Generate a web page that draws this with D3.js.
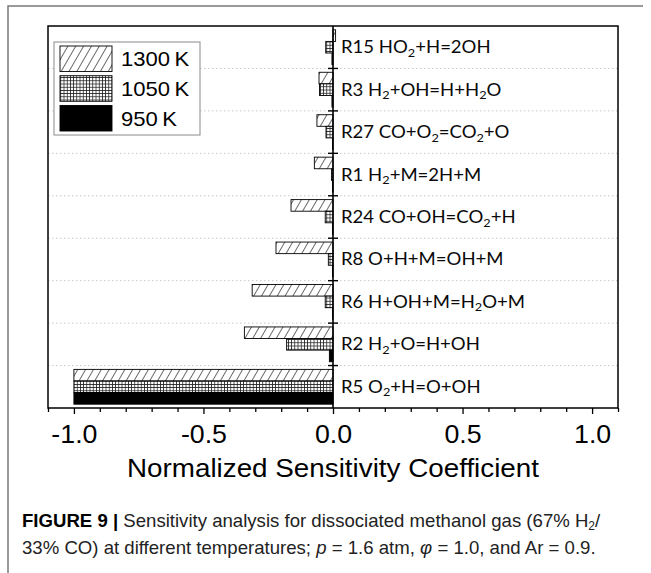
<!DOCTYPE html>
<html>
<head>
<meta charset="utf-8">
<script src="https://cdn.jsdelivr.net/npm/d3@7"></script>
<style>
  html, body { margin: 0; padding: 0; background: #fff; }
  svg { display: block; }
</style>
</head>
<body>
<svg id="chart" width="651" height="573"></svg>
<script>
// Reactions, top to bottom ("_" marks a subscript digit)
const reactions = [
  "R15 HO_2+H=2OH",
  "R3 H_2+OH=H+H_2O",
  "R27 CO+O_2=CO_2+O",
  "R1 H_2+M=2H+M",
  "R24 CO+OH=CO_2+H",
  "R8 O+H+M=OH+M",
  "R6 H+OH+M=H_2O+M",
  "R2 H_2+O=H+OH",
  "R5 O_2+H=O+OH"
];
const temperatures = ["1300\u2009K", "1050\u2009K", "950\u2009K"];

// Normalized sensitivity coefficients per temperature (same order as reactions)
const sens1300 = [0.010, -0.054, -0.062, -0.072, -0.162, -0.220, -0.312, -0.342, -1.0];
const sens1050 = [-0.028, -0.052, -0.027, -0.006, -0.030, -0.018, -0.030, -0.179, -1.0];
const sens950  = [-0.004, -0.004, -0.002, -0.002, -0.002, -0.002, -0.002, -0.014, -1.0];

const xMajorTicks = [-1.0, -0.5, 0.0, 0.5, 1.0];
const xMinorTicks = [-1.1, -0.9, -0.8, -0.7, -0.6, -0.4, -0.3, -0.2, -0.1,
                     0.1, 0.2, 0.3, 0.4, 0.6, 0.7, 0.8, 0.9, 1.1];
const xTitle = "Normalized Sensitivity Coefficient";

const series = [
  { name: temperatures[0], values: sens1300, fill: "url(#hatch)" },
  { name: temperatures[1], values: sens1050, fill: "url(#grid)" },
  { name: temperatures[2], values: sens950,  fill: "#000" }
];

const svg = d3.select("#chart");
const plot = { left: 48, right: 618, top: 26, bottom: 408 };
const axisFont = "'Liberation Sans', Arial, Helvetica, sans-serif";
const labelFont = "Lato, 'Open Sans', sans-serif";
const stretch = 1.07;

// fill patterns
const defs = svg.append("defs");
const hatch = defs.append("pattern")
  .attr("id", "hatch").attr("patternUnits", "userSpaceOnUse")
  .attr("width", 6.8).attr("height", 10)
  .attr("patternTransform", "rotate(30)");
hatch.append("rect").attr("width", 6.8).attr("height", 10).attr("fill", "#fff");
hatch.append("line").attr("x1", 0.5).attr("x2", 0.5).attr("y1", 0).attr("y2", 10)
  .attr("stroke", "#444").attr("stroke-width", 0.8);

const grid = defs.append("pattern")
  .attr("id", "grid").attr("patternUnits", "userSpaceOnUse")
  .attr("width", 3.2).attr("height", 3.2);
grid.append("rect").attr("width", 3.2).attr("height", 3.2).attr("fill", "#fff");
grid.append("path").attr("d", "M0,0.4H3.2M0.4,0V3.2")
  .attr("stroke", "#222").attr("stroke-width", 0.8).attr("fill", "none");

// outer panel rule
svg.append("path").attr("d", "M8,573V6H643")
  .attr("fill", "none").attr("stroke", "#7a7a7a").attr("stroke-width", 1.5);

// scales
const x = d3.scaleLinear().domain([-1.1, 1.1]).range([plot.left, plot.right]);
const y = d3.scaleBand().domain(reactions).range([plot.top, plot.bottom]).padding(0);
const ySub = d3.scaleBand().domain(temperatures).range([0, y.bandwidth()])
  .paddingInner(0).paddingOuter(0.33);

// dotted separators between reactions
const boundaries = reactions.slice(1).map(r => y(r));
svg.append("g").selectAll("line").data(boundaries).join("line")
  .attr("x1", plot.left).attr("x2", plot.right)
  .attr("y1", d => d).attr("y2", d => d)
  .attr("stroke", "#c8c8c8").attr("stroke-width", 1)
  .attr("stroke-dasharray", "1.5,2.5");

// bars
const rows = reactions.map((r, i) => ({ r, i }));
series.forEach(s => {
  svg.append("g").selectAll("rect").data(rows).join("rect")
    .attr("x", d => x(Math.min(0, s.values[d.i])))
    .attr("width", d => Math.abs(x(s.values[d.i]) - x(0)))
    .attr("y", d => y(d.r) + ySub(s.name))
    .attr("height", ySub.bandwidth())
    .attr("fill", s.fill)
    .attr("stroke", "#000").attr("stroke-width", 0.9);
});

// zero line with cross ticks at reaction boundaries
svg.append("line")
  .attr("x1", x(0)).attr("x2", x(0)).attr("y1", plot.top).attr("y2", plot.bottom)
  .attr("stroke", "#000").attr("stroke-width", 1.6);
svg.append("g").selectAll("line").data(boundaries).join("line")
  .attr("x1", x(0) - 5).attr("x2", x(0) + 5)
  .attr("y1", d => d).attr("y2", d => d)
  .attr("stroke", "#000").attr("stroke-width", 1.4);

// reaction labels with subscripts
const labels = svg.append("g")
  .attr("font-family", labelFont).attr("font-size", 17.5).attr("fill", "#0a0a0a");
reactions.forEach(r => {
  const t = labels.append("text")
    .attr("transform", `translate(${x(0) + 8},${y(r) + y.bandwidth() / 2 + 6}) scale(1.06,1)`);
  let lowered = false;
  r.split(/(_\d)/).filter(p => p).forEach(part => {
    if (part.startsWith("_")) {
      t.append("tspan").attr("font-size", 12).attr("dy", 3.5).text(part.slice(1));
      lowered = true;
    } else {
      t.append("tspan").attr("dy", lowered ? -3.5 : null).text(part);
      lowered = false;
    }
  });
});

// plot frame
svg.append("rect")
  .attr("x", plot.left).attr("y", plot.top)
  .attr("width", plot.right - plot.left).attr("height", plot.bottom - plot.top)
  .attr("fill", "none").attr("stroke", "#000").attr("stroke-width", 1.5);

// bottom axis: minor ticks, then major ticks with labels
const minorAxis = d3.axisBottom(x).tickValues(xMinorTicks).tickSize(4).tickFormat("");
svg.append("g").attr("transform", `translate(0,${plot.bottom})`).call(minorAxis)
  .call(g => g.select(".domain").remove())
  .call(g => g.selectAll("text").remove())
  .call(g => g.selectAll("line").attr("stroke-width", 1.3));

const majorAxis = d3.axisBottom(x).tickValues(xMajorTicks).tickSize(6).tickPadding(11)
  .tickFormat(d => d.toFixed(1));
const gx = svg.append("g").attr("transform", `translate(0,${plot.bottom})`).call(majorAxis);
gx.select(".domain").remove();
gx.selectAll("line").attr("stroke-width", 1.3);
gx.selectAll("text")
  .attr("font-family", axisFont).attr("font-size", 25).attr("fill", "#000")
  .attr("transform", `scale(${stretch},1)`);

// axis title
svg.append("text")
  .attr("transform", `translate(${x(0)},477) scale(${stretch},1)`)
  .attr("text-anchor", "middle")
  .attr("font-family", axisFont).attr("font-size", 26).attr("fill", "#000")
  .text(xTitle);

// legend
const legend = svg.append("g").attr("transform", "translate(54,42)");
legend.append("rect").attr("width", 146).attr("height", 93)
  .attr("fill", "#fff").attr("stroke", "#8a8a8a").attr("stroke-width", 1);
const swatchY = d3.scaleBand().domain(temperatures).range([4, 89]).paddingInner(0.14);
series.forEach(s => {
  legend.append("rect")
    .attr("x", 6).attr("y", swatchY(s.name))
    .attr("width", 52).attr("height", swatchY.bandwidth())
    .attr("fill", s.fill).attr("stroke", "#000").attr("stroke-width", 0.9);
  legend.append("text")
    .attr("transform", `translate(67,${swatchY(s.name) + swatchY.bandwidth() / 2 + 7.5}) scale(1.05,1)`)
    .attr("font-family", axisFont).attr("font-size", 21).attr("fill", "#000")
    .text(s.name);
});

// figure caption
const caption = svg.append("g")
  .attr("font-family", axisFont).attr("font-size", 18.6).attr("fill", "#222");
const c1 = caption.append("text").attr("x", 22).attr("y", 527);
c1.append("tspan").attr("font-weight", "bold").attr("fill", "#000").text("FIGURE 9 | ");
c1.append("tspan").text("Sensitivity analysis for dissociated methanol gas (67% H");
c1.append("tspan").attr("font-size", 12).attr("dy", 3).text("2");
c1.append("tspan").attr("dy", -3).text("/");
const c2 = caption.append("text").attr("x", 22).attr("y", 554);
c2.append("tspan").text("33% CO) at different temperatures; ");
c2.append("tspan").attr("font-style", "italic").text("p");
c2.append("tspan").text(" = 1.6 atm, ");
c2.append("tspan").attr("font-style", "italic").text("\u03c6");
c2.append("tspan").text(" = 1.0, and Ar = 0.9.");
</script>
</body>
</html>
